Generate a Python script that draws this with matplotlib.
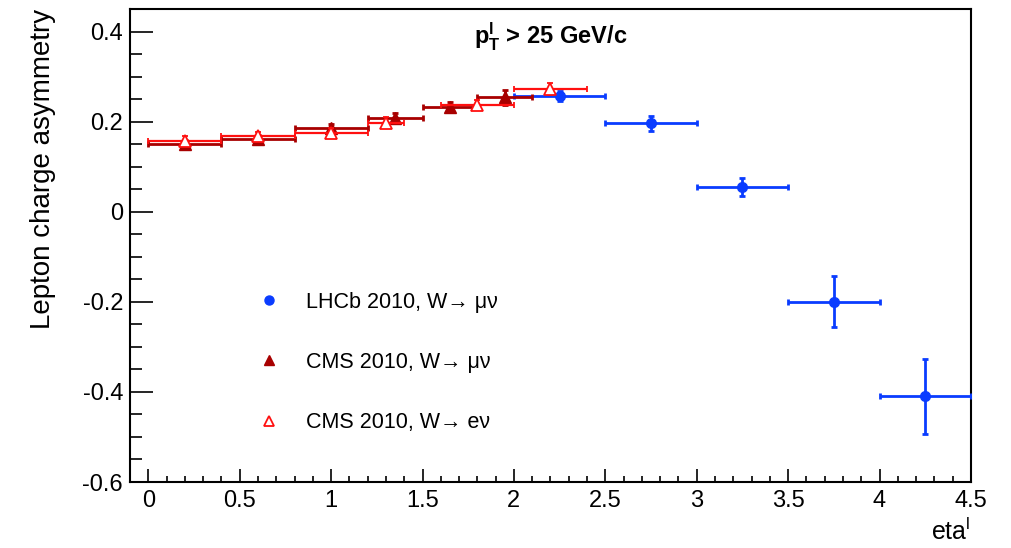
import matplotlib
matplotlib.use("Agg")
import matplotlib.pyplot as plt
from matplotlib.lines import Line2D
from matplotlib.ticker import MultipleLocator, FixedLocator
import numpy as np

plt.rcParams['font.family'] = ['Liberation Sans', 'DejaVu Sans']
plt.rcParams['mathtext.fontset'] = 'custom'
plt.rcParams['mathtext.rm'] = 'Liberation Sans'
plt.rcParams['mathtext.it'] = 'Liberation Sans'
plt.rcParams['mathtext.bf'] = 'Liberation Sans:bold'

# ---- data ----
lhcb_lo = [2.0, 2.5, 3.0, 3.5, 4.0]
lhcb_hi = [2.5, 3.0, 3.5, 4.0, 4.5]
lhcb_eta = [2.25, 2.75, 3.25, 3.75, 4.25]
lhcb_asym = [0.256, 0.196, 0.055, -0.200, -0.410]
lhcb_err = [0.011, 0.017, 0.020, 0.057, 0.083]

mu_lo = [0.0, 0.4, 0.8, 1.2, 1.5, 1.8]
mu_hi = [0.4, 0.8, 1.2, 1.5, 1.8, 2.1]
mu_eta = [0.2, 0.6, 1.0, 1.35, 1.65, 1.95]
mu_asym = [0.150, 0.161, 0.185, 0.209, 0.233, 0.254]
mu_err = [0.010, 0.010, 0.010, 0.011, 0.011, 0.017]

e_lo = [0.0, 0.4, 0.8, 1.2, 1.6, 2.0]
e_hi = [0.4, 0.8, 1.2, 1.4, 2.0, 2.4]
e_eta = [0.2, 0.6, 1.0, 1.3, 1.8, 2.2]
e_asym = [0.156, 0.167, 0.175, 0.198, 0.237, 0.273]
e_err = [0.011, 0.011, 0.011, 0.012, 0.012, 0.013]

labels = ["LHCb 2010, W\u2192 \u03bc\u03bd", "CMS 2010, W\u2192 \u03bc\u03bd", "CMS 2010, W\u2192 e\u03bd"]

blue = '#0a3cff'
dred = '#a80000'
red = '#ff1010'

fig = plt.figure(figsize=(10.11, 5.48), dpi=100)
ax = fig.add_axes([0.1286, 0.1204, 0.8318, 0.8632])

def xerr(c, lo, hi):
    c = np.asarray(c); lo = np.asarray(lo); hi = np.asarray(hi)
    return [c - lo, hi - c]

ax.errorbar(lhcb_eta, lhcb_asym, xerr=xerr(lhcb_eta, lhcb_lo, lhcb_hi), yerr=lhcb_err,
            fmt='o', color=blue, ms=7, lw=2, capsize=2, capthick=2, zorder=3)
ax.errorbar(mu_eta, mu_asym, xerr=xerr(mu_eta, mu_lo, mu_hi), yerr=mu_err,
            fmt='^', color=dred, ms=8, lw=2, capsize=2, capthick=2, zorder=4)
ax.errorbar(e_eta, e_asym, xerr=xerr(e_eta, e_lo, e_hi), yerr=e_err,
            fmt='^', color=red, mfc='white', mec=red, ms=8, mew=1.3, lw=1.6,
            capsize=2, capthick=1.6, zorder=5)

ax.set_xlim(-0.1, 4.5)
ax.set_ylim(-0.6, 0.45)
ax.xaxis.set_major_locator(FixedLocator([0, 0.5, 1, 1.5, 2, 2.5, 3, 3.5, 4, 4.5]))
ax.xaxis.set_minor_locator(MultipleLocator(0.1))
ax.yaxis.set_major_locator(FixedLocator([-0.6, -0.4, -0.2, 0, 0.2, 0.4]))
ax.yaxis.set_minor_locator(MultipleLocator(0.05))
ax.set_xticklabels(['0', '0.5', '1', '1.5', '2', '2.5', '3', '3.5', '4', '4.5'])
ax.set_yticklabels(['-0.6', '-0.4', '-0.2', '0', '0.2', '0.4'])
ax.tick_params(axis='both', which='both', direction='in', top=False, right=False,
               labelsize=17, width=1.2)
ax.tick_params(axis='x', which='major', length=9.5, pad=6)
ax.tick_params(axis='x', which='minor', length=4.5)
ax.tick_params(axis='y', which='major', length=16.5, pad=5)
ax.tick_params(axis='y', which='minor', length=8.5)
for s in ax.spines.values():
    s.set_linewidth(1.5)

ax.set_ylabel('Lepton charge asymmetry', fontsize=20, loc='top', labelpad=19)
ax.set_xlabel(r'eta$^{\mathrm{l}}$', fontsize=18, loc='right', labelpad=4)

ax.text(0.5, 0.94, r'$\mathbf{p}^{\mathbf{l}}_{\mathbf{T}}$ > 25 GeV/c', transform=ax.transAxes,
        ha='center', va='center', fontsize=17, fontweight='bold')

handles = [Line2D([], [], marker='o', ls='none', color=blue, ms=6.5),
           Line2D([], [], marker='^', ls='none', color=dred, ms=7.5),
           Line2D([], [], marker='^', ls='none', color=red, mfc='white', mec=red, ms=7.5, mew=1.3)]
ax.legend(handles, labels, loc='upper left', bbox_to_anchor=(0.13, 0.443), frameon=False,
          fontsize=15.5, labelspacing=1.82, handlelength=1.0, handletextpad=1.2)

fig.savefig('out.png', dpi=100)
